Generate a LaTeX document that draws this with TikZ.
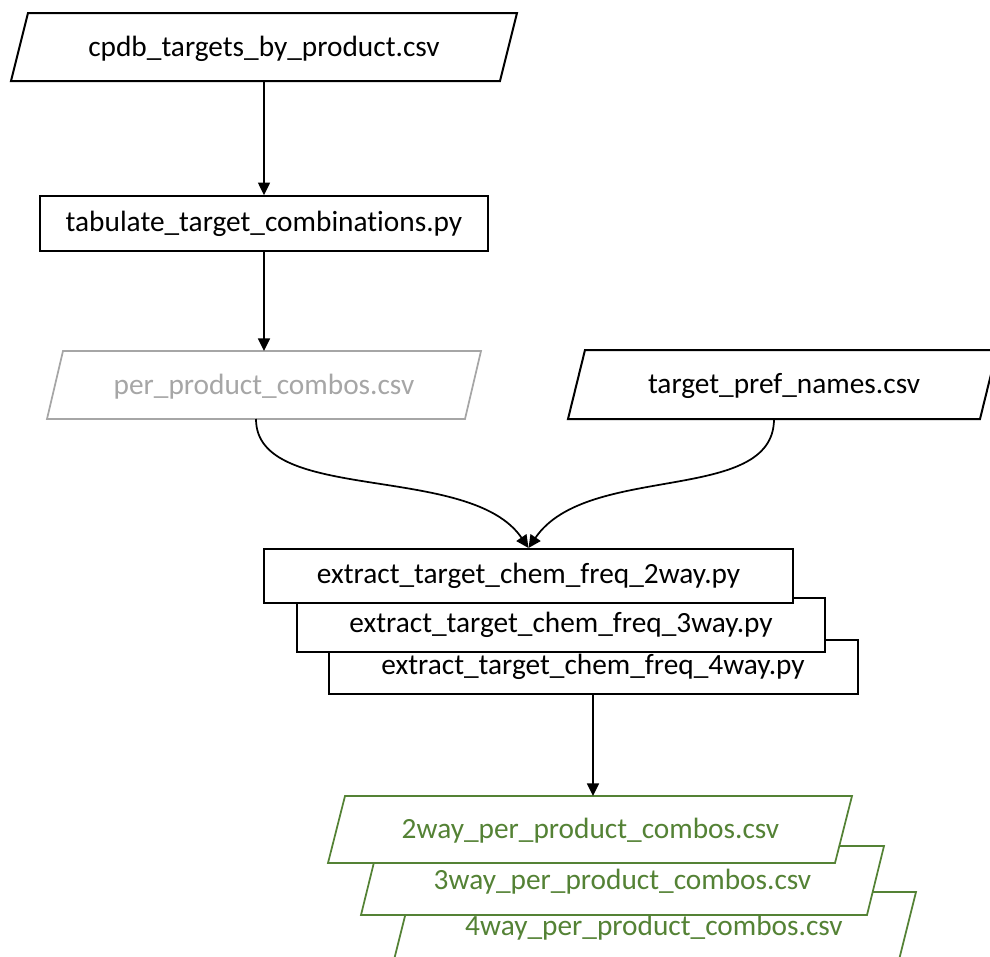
\documentclass[tikz,border=0pt]{standalone}
\usepackage{fontspec}
\setmainfont{Carlito}[Ligatures=NoCommon]
\usetikzlibrary{arrows.meta}
\definecolor{inkgray}{HTML}{A6A6A6}
\definecolor{inkgreen}{HTML}{548235}
\begin{document}
\begin{tikzpicture}[x=0.75pt,y=-0.75pt,
  lbl/.style={font=\fontsize{22}{26}\selectfont, inner sep=0pt},
  ioline/.style={line width=1.5pt, line join=miter, fill=white},
  procbox/.style={draw, fill=white, line width=1.5pt, inner sep=0pt,
    font=\fontsize{22}{26}\selectfont, minimum height=41pt},
  flow/.style={line width=1.3pt, -{Triangle[width=9pt,length=9.5pt]}},
]
\useasboundingbox (0,0) rectangle (990,957);
\clip (0,0) rectangle (990,957);

% input table
\draw[ioline] (28,13) -- (517,13) -- (500,81) -- (11,81) -- cycle;
\node[lbl] (cpdb) at (264,49) {cpdb\_targets\_by\_product.csv};
\coordinate (cpdb-out) at (264,81);

% first script
\node[procbox, minimum width=336pt] (tab) at (264,223.5) {tabulate\_target\_combinations.py};

% intermediate table (grey)
\draw[ioline, draw=inkgray, line width=1.3pt] (63,351) -- (481,351) -- (465,419) -- (47,419) -- cycle;
\node[lbl, text=inkgray] (ppc) at (264,387) {per\_product\_combos.csv};
\coordinate (ppc-in) at (264,351);
\coordinate (ppc-out) at (256,419);

% lookup table
\draw[ioline] (585,350) -- (997,350) -- (980,419) -- (568,419) -- cycle;
\node[lbl] (tpn) at (784,386) {target\_pref\_names.csv};
\coordinate (tpn-out) at (774,419);

% stacked extraction scripts
\node[procbox, minimum width=396.75pt, minimum height=40.5pt] (ext4) at (593,667) {extract\_target\_chem\_freq\_4way.py};
\node[procbox, minimum width=396pt, minimum height=40.5pt] (ext3) at (561,625) {extract\_target\_chem\_freq\_3way.py};
\node[procbox, minimum width=396.75pt, minimum height=40.5pt] (ext2) at (528.5,576) {extract\_target\_chem\_freq\_2way.py};

% stacked output tables (green)
\draw[ioline, draw=inkgreen, line width=1.3pt] (411,892) -- (916,892) -- (899,960) -- (394,960) -- cycle;
\node[lbl, text=inkgreen] (out4) at (654,927.5) {4way\_per\_product\_combos.csv};
\draw[ioline, draw=inkgreen, line width=1.3pt] (378,846) -- (884,846) -- (867,915) -- (361,915) -- cycle;
\node[lbl, text=inkgreen] (out3) at (622.5,881.5) {3way\_per\_product\_combos.csv};
\draw[ioline, draw=inkgreen, line width=1.3pt] (345,796) -- (852,796) -- (835,863) -- (328,863) -- cycle;
\node[lbl, text=inkgreen] (out2) at (590.5,831) {2way\_per\_product\_combos.csv};
\coordinate (out2-in) at (593,796);

% connectors
\draw[flow] (cpdb-out) -- (cpdb-out |- tab.north);
\draw[flow] (tab.south) -- (ppc-in);
\draw[flow] (ppc-out) .. controls (256,505) and (470,462) .. (ext2.north);
\draw[flow] (tpn-out) .. controls (774,505) and (587,462) .. (ext2.north);
\draw[flow] (ext4.south -| out2-in) -- (out2-in);
\end{tikzpicture}
\end{document}
